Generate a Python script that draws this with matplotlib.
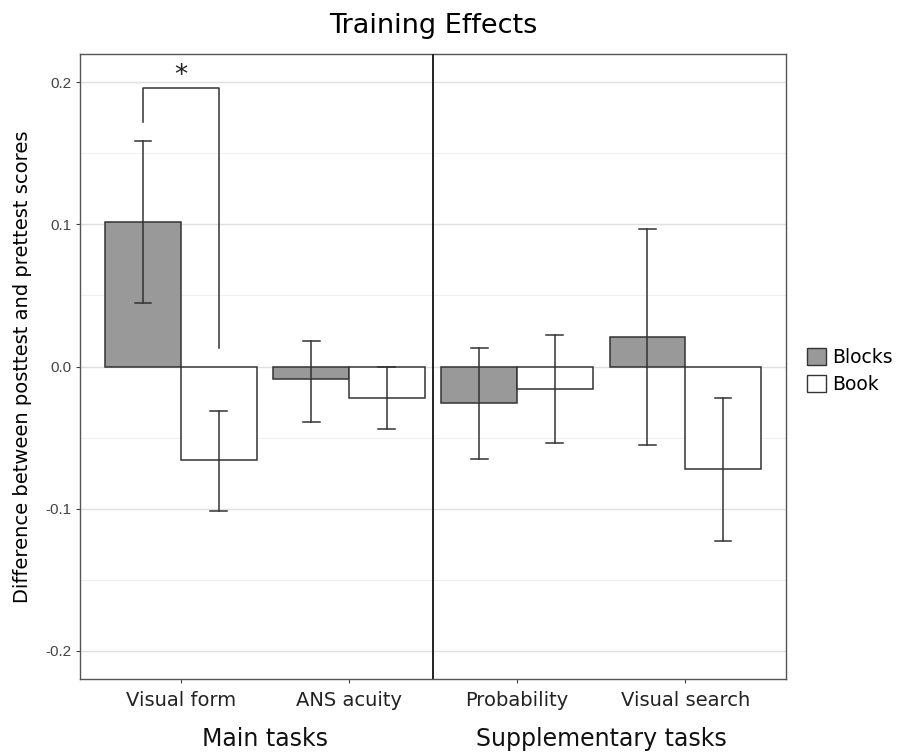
import matplotlib
matplotlib.use('Agg')
import matplotlib.pyplot as plt
from matplotlib.patches import Patch
import numpy as np

# data
tasks = ['Visual form', 'ANS acuity', 'Probability', 'Visual search']
blocks_mean = [0.102, -0.009, -0.026, 0.021]
blocks_lo = [0.045, -0.039, -0.065, -0.055]
blocks_hi = [0.159, 0.018, 0.013, 0.097]
book_mean = [-0.066, -0.022, -0.016, -0.072]
book_lo = [-0.102, -0.044, -0.054, -0.123]
book_hi = [-0.031, 0.000, 0.022, -0.022]
groups = ['Main tasks', 'Supplementary tasks']

fig = plt.figure(figsize=(8.99, 7.54), dpi=100)
ax = fig.add_axes([80/899, 75/754, 706/899, 625/754])

x = np.arange(1, len(tasks) + 1)
w = 0.45
cap = 0.05

def draw(xs, mean, lo, hi, color):
    ax.bar(xs, mean, width=w, color=color, edgecolor='#333333', linewidth=1.1, zorder=2)
    for xi, l, h in zip(xs, lo, hi):
        ax.plot([xi, xi], [l, h], color='#333333', lw=1.1, zorder=3)
        ax.plot([xi - cap, xi + cap], [l, l], color='#333333', lw=1.1, zorder=3)
        ax.plot([xi - cap, xi + cap], [h, h], color='#333333', lw=1.1, zorder=3)

draw(x - w / 2, blocks_mean, blocks_lo, blocks_hi, '#999999')
draw(x + w / 2, book_mean, book_lo, book_hi, 'white')

# separator between main and supplementary tasks
ax.axvline(2.5, color='#222222', lw=1.4, zorder=4)

# significance bracket
bx1, bx2 = 1 - w / 2, 1 + w / 2
ax.plot([bx1, bx1, bx2, bx2], [0.172, 0.196, 0.196, 0.013], color='#333333', lw=1.1, zorder=3)
ax.text(1, 0.1955, '*', ha='center', va='bottom', fontsize=19, color='#222222')

ax.set_xlim(0.4, 4.6)
ax.set_ylim(-0.22, 0.22)
ax.set_yticks([-0.2, -0.1, 0.0, 0.1, 0.2])
ax.set_yticklabels(['-0.2', '-0.1', '0.0', '0.1', '0.2'], fontfamily='Liberation Sans',
                   fontsize=11, color='#444444')
ax.set_yticks([-0.15, -0.05, 0.05, 0.15], minor=True)
ax.set_xticks(x)
ax.set_xticklabels(tasks, fontsize=14, color='#222222')
ax.grid(True, which='major', axis='y', color='#e0e0e0', lw=1.0, zorder=0)
ax.grid(True, which='minor', axis='y', color='#efefef', lw=0.8, zorder=0)
ax.tick_params(axis='y', which='minor', length=0)
ax.tick_params(axis='both', which='major', length=3, color='#444444', pad=3)
ax.tick_params(axis='x', pad=6)
ax.set_axisbelow(True)
for s in ax.spines.values():
    s.set_color('#555555')
    s.set_linewidth(1.0)

ax.set_ylabel('Difference between posttest and prettest scores', fontsize=14, labelpad=10)
ax.set_title('Training Effects', fontsize=19.5, pad=15)

for gx, g in zip([1.5, 3.5], groups):
    fig.text(ax.transData.transform((gx, 0))[0] / fig.bbox.width, 1 - 746/754, g,
             ha='center', va='baseline', fontsize=17, color='#111111')

handles = [Patch(facecolor='#999999', edgecolor='#333333', label='Blocks'),
           Patch(facecolor='white', edgecolor='#333333', label='Book')]
fig.legend(handles=handles, loc='center left', bbox_to_anchor=(798/899, 1 - 371/754),
           frameon=False, fontsize=13.5, handlelength=1.0, handleheight=1.0,
           handletextpad=0.3, labelspacing=0.4, borderpad=0)

fig.savefig('out.png', dpi=100, facecolor='white')
